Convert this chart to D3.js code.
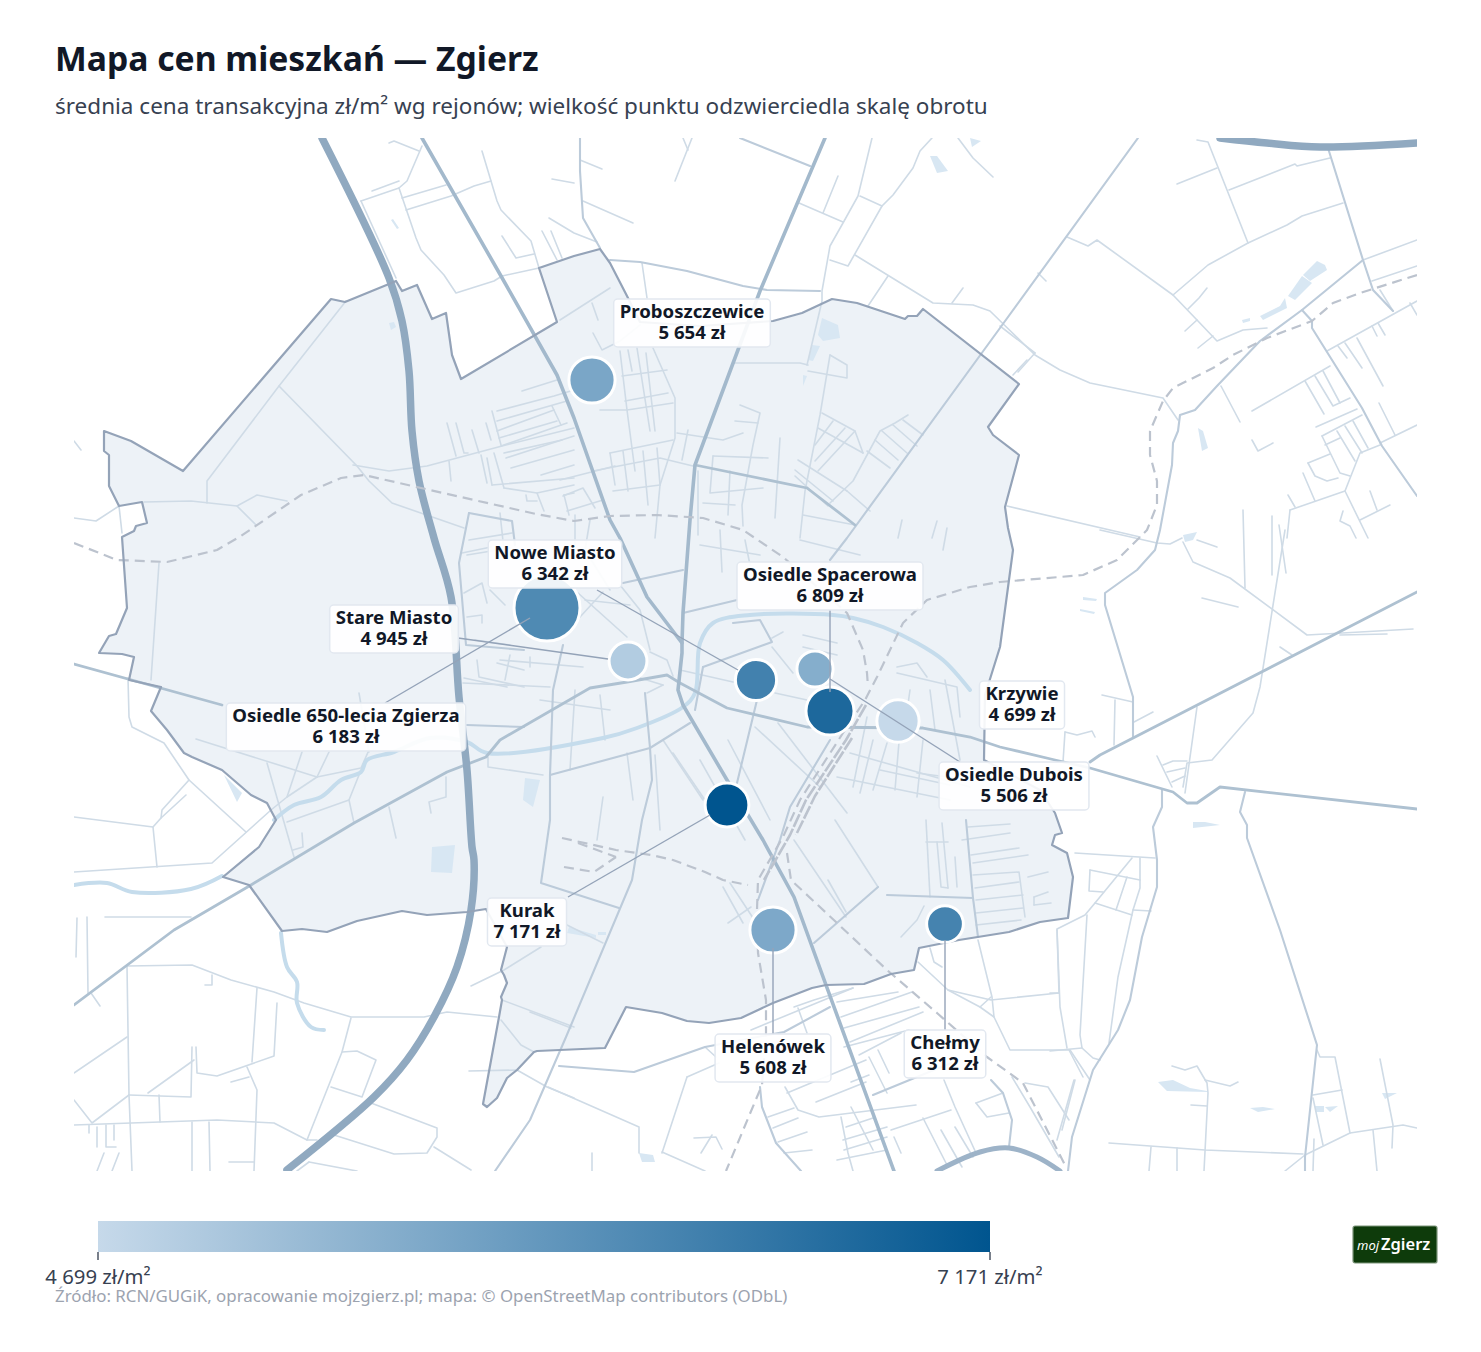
<!DOCTYPE html>
<html lang="pl">
<head>
<meta charset="utf-8">
<title>Mapa cen mieszkań — Zgierz</title>
<script src="https://d3js.org/d3.v7.min.js"></script>
<style>
  html,body{margin:0;padding:0;background:#fff;}
  svg{display:block;font-family:"Noto Sans","Open Sans",sans-serif;}
</style>
</head>
<body>
<div id="chart"></div>
<script>
// rejony
var districts = ["Proboszczewice","Osiedle 650-lecia Zgierza","Stare Miasto","Nowe Miasto","Osiedle Dubois","Osiedle Spacerowa","Krzywie","Kurak","Helenówek","Chełmy"];
var prices    = [5654,6183,4945,6342,5506,6809,4699,7171,5608,6312];
var turnover  = [49,100,33,39,30,53,41,44,49,31];
var pointX    = [592,547,628,756,815,830,898,727,773,945];
var pointY    = [380,608,661,680,669,711,721,805,930,924];
var labelX    = [692,346,394,555,1014,830,1022,527,773,945];
var labelY    = [323,727,629,564,786,586,705,922,1058,1054];
// odnośniki od etykiety do punktu: rejon, x1,y1,x2,y2 w jednostkach mapy
var leaders = [
  [1,385,703,530,618],[2,458,638,608,659],[3,597,590,738,670],[4,960,762,830,679],
  [5,830,610,830,692],[7,568,897,710,815],[8,773,1035,773,948],[9,945,1030,945,940]
];
var legendTicks = [4699,7171];

// granica miasta (jednostki siatki mapy)
var boundary = [[104,431],[131,441],[183,471],[331,299],[345,302],[389,284],[396,281],[402,291],[417,285],[432,319],[446,313],[452,355],[461,379],[557,322],[539,268],[574,256],[600,249],[610,263],[627,296],[640,322],[700,326],[773,321],[802,313],[832,299],[857,303],[905,319],[908,316],[917,316],[923,309],[1019,384],[988,427],[993,435],[1019,455],[1005,507],[1008,528],[1013,550],[1000,647],[985,695],[984,760],[1040,790],[1055,813],[1062,833],[1055,835],[1052,845],[1067,853],[1073,877],[1068,918],[1040,922],[1009,932],[959,940],[919,948],[914,970],[891,974],[864,984],[826,985],[812,988],[773,1003],[741,1018],[709,1023],[687,1021],[662,1013],[626,1007],[605,1048],[537,1051],[534,1052],[517,1070],[507,1078],[497,1098],[487,1107],[483,1104],[499,1017],[502,1000],[501,997],[507,983],[504,975],[501,970],[507,947],[486,909],[467,912],[427,915],[402,911],[357,921],[327,932],[302,929],[282,931],[249,885],[223,877],[259,847],[276,820],[267,803],[251,795],[222,770],[192,757],[184,753],[167,730],[151,711],[161,687],[129,680],[134,657],[122,654],[99,653],[109,636],[116,634],[127,608],[122,537],[134,531],[136,526],[147,523],[142,502],[119,506],[109,486],[109,455],[104,451]];

var motorways = [
  [[322,138],[389,278],[402,321],[409,371],[412,431],[419,481],[434,538],[451,597],[459,697],[467,770],[472,847],[474,860],[471,910],[457,967],[434,1017],[407,1060],[374,1097],[287,1170]],
  [[1220,138],[1267,143],[1320,147],[1417,143]]
];
var motorwayLink = [[[937,1171],[980,1152],[1009,1148],[1037,1157],[1060,1171]]];
var trunks = [
  [[422,138],[501,276],[557,375],[574,418],[610,520],[620,538],[647,597],[682,643],[682,653],[678,690],[683,705],[727,780],[763,840],[794,897],[826,985],[894,1171]],
  [[825,138],[760,291],[695,465],[690,520],[683,613],[682,643]]
];
var primary = [
  [[74,1005],[174,930],[251,885],[354,823],[447,772],[486,757],[500,740],[590,688],[627,682],[667,675],[680,683],[727,708],[807,727],[923,728],[970,737],[1000,747],[1055,760],[1090,768],[1173,792],[1187,803],[1197,803],[1220,787],[1417,809]],
  [[1090,762],[1100,755],[1417,592]],
  [[74,664],[222,705]],
  [[695,465],[807,488],[855,525]]
];
var secondary = [
  [[1138,138],[1000,328],[847,538],[830,560]],
  [[467,725],[524,727]],
  [[469,513],[512,521],[515,545]],
  [[469,513],[459,563],[466,645],[524,650]],
  [[1363,260],[1302,310],[1260,341],[1217,386],[1195,410],[1180,415],[1178,431],[1173,443],[1172,465],[1160,530],[1155,550],[1137,570],[1105,593],[1105,605],[1133,697],[1133,737]],
  [[1302,310],[1312,321],[1312,328],[1362,408],[1382,446],[1417,496]],
  [[1328,148],[1363,260],[1373,290],[1393,311]],
  [[1162,790],[1162,807],[1153,827],[1157,860],[1157,887],[1142,937],[1130,1000],[1118,1030],[1093,1070],[1072,1137],[1068,1171]],
  [[1245,792],[1240,812],[1247,825],[1247,838],[1280,930],[1317,1045],[1305,1157],[1305,1171]],
  [[645,693],[650,748],[652,780],[642,820],[632,880],[566,1037],[530,1120],[495,1171]],
  [[563,645],[553,690],[550,775],[550,820],[541,883],[569,892],[619,908]],
  [[550,775],[650,748],[690,723]],
  [[830,1007],[784,1032],[705,1047],[634,1072],[559,1066]],
  [[760,1087],[762,1107],[776,1143],[801,1171]],
  [[878,887],[814,943]],
  [[887,895],[973,898],[978,937]],
  [[966,820],[973,898]],
  [[757,700],[737,783]],
  [[830,740],[790,807],[780,840],[758,900]],
  [[703,667],[772,642],[760,620],[733,623]],
  [[695,710],[703,667]],
  [[683,613],[737,600]],
  [[623,583],[683,570]],
  [[873,1095],[951,1063]],
  [[991,1080],[1003,1093],[1012,1120],[1009,1147]],
  [[580,138],[580,171],[583,218],[600,248]],
  [[810,166],[740,138]],
  [[610,260],[640,262],[687,271],[743,286],[767,290],[820,291]]
];
var streets = [
  // północ
  [[361,201],[399,188],[407,181],[422,146]],[[361,201],[396,278]],[[372,191],[399,181]],
  [[399,188],[416,238],[421,250],[444,275],[456,293],[494,281],[502,276],[539,268]],
  [[402,198],[446,185]],[[406,210],[451,196],[474,186],[491,181]],
  [[482,151],[497,201],[501,210],[531,241],[539,268]],[[502,236],[516,258],[534,254]],
  [[542,231],[557,260]],[[551,231],[562,258]],[[549,218],[574,233],[597,242]],[[552,179],[574,183]],
  [[389,143],[394,141],[419,151]],[[580,160],[602,169]],[[583,201],[633,223]],
  [[692,138],[675,181]],[[683,138],[688,150]],[[799,203],[843,222]],[[838,176],[823,213]],
  [[872,138],[858,196],[843,223],[830,246],[822,291],[822,301],[807,365]],
  [[860,196],[882,206]],[[932,138],[920,151],[913,168],[893,195],[882,206],[848,266],[830,260]],
  [[855,255],[933,303],[973,305],[990,311],[1035,355],[1060,370],[1090,383],[1163,398],[1178,420]],
  [[888,276],[868,306]],[[963,288],[952,303]],[[958,138],[973,158],[993,177]],[[642,263],[647,298]],
  // Proboszczewice i okolice
  [[610,288],[560,320]],[[592,303],[598,320]],[[593,333],[602,350],[620,341],[640,325]],
  [[653,348],[675,398],[675,438],[660,485],[655,538]],
  [[620,351],[627,410],[635,471]],[[628,350],[632,371]],[[637,348],[650,431]],[[646,353],[655,431]],
  [[622,376],[667,370]],[[625,401],[668,393]],[[600,410],[627,410],[673,403]],[[610,453],[673,440]],
  [[593,471],[660,458],[693,466]],[[677,433],[723,440],[743,433]],[[688,430],[682,460]],
  [[610,453],[615,485]],[[623,451],[628,491]],[[643,451],[648,505]],[[657,448],[660,485]],
  [[613,491],[660,485]],[[560,480],[615,466]],[[563,496],[583,488],[595,508]],[[567,511],[603,500]],
  // na wschód od drogi
  [[713,456],[768,458]],[[713,456],[710,493],[763,488]],[[740,405],[760,413],[753,445],[742,505],[743,526]],
  [[735,421],[758,423]],[[780,438],[775,518]],[[698,471],[698,535]],[[703,503],[735,505]],[[730,471],[728,515]],
  [[830,355],[820,415],[805,491],[800,538]],[[830,355],[847,365],[847,378],[808,371]],[[735,363],[800,363],[808,365]],
  [[822,413],[855,431],[863,453]],[[818,428],[863,453]],[[798,460],[847,491]],[[795,470],[833,501]],[[795,476],[828,506]],
  [[855,431],[818,471]],[[845,428],[815,461]],[[833,421],[815,445]],[[908,415],[895,423],[880,431],[853,481],[830,503]],
  [[903,420],[923,435]],[[893,425],[917,446]],[[882,431],[907,453]],[[875,440],[898,460]],[[867,451],[890,468]],
  [[847,491],[870,511]],[[803,515],[855,525]],[[937,521],[932,538]],[[902,520],[898,538]],[[947,528],[943,550]],
  [[1007,506],[1140,537]],
  // prawa strona
  [[1197,140],[1208,142],[1248,243]],[[1177,184],[1217,168]],[[1229,190],[1295,164],[1297,166],[1330,158]],
  [[1173,295],[1208,265],[1248,243],[1287,225],[1302,216],[1343,203]],
  [[1067,237],[1088,246],[1097,240],[1173,295],[1197,320],[1217,341],[1243,330],[1267,328]],
  [[1188,309],[1199,298],[1207,288]],[[1185,331],[1197,320]],[[1198,348],[1213,336]],[[1038,273],[1046,281]],
  [[1000,326],[1035,353]],[[1027,360],[1013,375]],[[1035,353],[1018,372]],[[1363,260],[1417,240]],[[1372,281],[1417,266]],
  [[1327,351],[1417,301]],[[1338,346],[1347,358]],[[1345,343],[1362,368]],[[1357,338],[1383,386]],
  [[1372,326],[1377,336]],[[1378,323],[1385,335]],[[1380,290],[1393,311]],[[1410,303],[1417,315]],
  [[1252,411],[1330,366]],[[1305,381],[1324,414]],[[1315,376],[1333,406],[1350,398]],[[1323,371],[1340,403]],
  [[1316,427],[1357,409]],[[1322,436],[1362,415]],[[1322,436],[1340,473],[1350,476]],[[1325,445],[1340,438]],
  [[1337,431],[1355,461]],[[1345,426],[1362,453]],[[1353,421],[1368,448]],[[1380,445],[1360,453],[1345,491]],
  [[1380,443],[1417,425]],[[1379,403],[1395,435]],[[1290,510],[1345,491],[1368,538]],[[1288,495],[1295,507]],
  [[1303,473],[1315,501]],[[1308,463],[1330,454]],[[1308,463],[1315,476],[1327,481],[1338,478]],[[1290,510],[1287,538]],
  [[1252,440],[1258,451],[1273,443]],[[1221,386],[1240,422]],[[1243,510],[1245,588]],[[1272,516],[1272,575]],[[1279,525],[1286,573]],
  [[1370,491],[1377,510]],[[1360,520],[1390,505]],[[1343,511],[1340,521],[1350,526],[1356,538]],
  [[1100,530],[1157,543],[1170,544],[1182,538]],[[1183,542],[1193,562],[1230,578],[1307,635],[1413,629]],[[1197,540],[1217,547]],
  [[1285,530],[1260,687],[1253,713],[1212,760],[1187,763],[1183,787]],[[1197,707],[1185,793]],
  [[1202,598],[1238,607]],[[1340,635],[1387,634]],[[1280,647],[1292,655]],[[1157,756],[1172,787]],
  [[1163,765],[1173,761],[1187,761]],[[1167,772],[1185,768]],[[1172,782],[1185,776]],
  [[1102,695],[1133,702]],[[1115,700],[1114,745]],[[1134,722],[1153,712]],[[1065,732],[1063,762]],
  [[1065,732],[1077,735],[1092,731],[1095,737]],
  // południowy wschód
  [[1090,870],[1140,880]],[[1090,870],[1089,891],[1103,892]],[[1132,858],[1095,903],[1085,915],[1057,929],[1060,1007],[1067,1048]],
  [[1127,877],[1116,910]],[[1095,903],[1132,915]],[[1140,858],[1140,888],[1133,910],[1118,977],[1109,1043]],[[1133,910],[1151,911]],
  [[1087,915],[1080,1035],[1082,1048],[1093,1058],[1100,1060]],[[1050,1051],[1082,1048]],[[1070,1050],[1090,1080]],
  [[1050,993],[1059,993]],[[1074,1080],[1057,1140]],[[1075,853],[1155,858]],
  [[1172,1066],[1185,1070],[1197,1066],[1207,1083],[1208,1093],[1204,1171]],[[1205,1080],[1230,1086],[1238,1082]],[[1191,1105],[1207,1106]],
  [[1109,1143],[1205,1150],[1303,1154]],[[1151,1147],[1149,1171]],[[1177,1148],[1177,1171]],
  [[1317,1050],[1320,1057],[1335,1057],[1350,1133]],[[1313,1095],[1342,1090]],[[1313,1098],[1323,1145]],
  [[1285,1171],[1305,1155],[1350,1133],[1403,1125],[1417,1128]],[[1380,1059],[1393,1125],[1392,1148]],[[1373,1130],[1377,1171]],[[1314,1139],[1313,1171]],
  // osiedle przy granicy
  [[926,820],[930,897]],[[942,823],[948,888]],[[835,820],[878,887]],[[794,840],[846,917]],[[828,880],[846,912]],
  [[968,827],[1010,824]],[[962,840],[1010,833]],[[971,855],[1019,848]],[[973,863],[1028,855]],[[973,875],[1019,872],[1025,917]],
  [[975,888],[1019,882]],[[976,900],[1023,895]],[[976,913],[1023,908]],[[976,925],[1021,920]],[[1028,877],[1048,872]],
  [[1034,897],[1048,892]],[[1034,905],[1051,903]],[[1034,897],[1034,905]],[[926,842],[948,842]],[[937,842],[941,887],[948,888]],[[955,857],[957,887]],
  [[901,937],[917,920],[924,906]],[[930,948],[934,962],[942,967]],[[918,962],[948,990],[991,1000],[1059,993]],[[980,1007],[991,997]],
  [[978,940],[992,997],[994,1017],[1010,1050],[1069,1050],[1083,1077]],[[948,990],[980,1007],[994,1017]],[[1057,930],[1059,993]],
  // południe miasta
  [[705,1047],[716,1057]],[[687,1077],[719,1063]],[[687,1077],[662,1153]],
  [[787,1093],[866,1060]],[[785,1087],[798,1110],[819,1117],[916,1105]],[[816,1102],[866,1082]],[[768,1117],[794,1108]],[[773,1128],[798,1118]],
  [[778,1142],[807,1132]],[[784,1153],[812,1150]],[[841,1117],[848,1153],[853,1171]],[[851,1107],[873,1150]],
  [[843,1140],[887,1127]],[[846,1127],[873,1118]],[[844,1150],[887,1137]],[[837,1160],[887,1150]],[[891,1130],[951,1110]],
  [[894,1137],[901,1153]],[[923,1118],[948,1167]],[[941,1130],[962,1167]],[[955,1127],[973,1157]],[[944,1080],[955,1107],[976,1153]],
  [[976,1103],[1003,1093]],[[976,1103],[987,1117],[1009,1113]],[[1012,1077],[1030,1107],[1059,1157]],[[1025,1083],[1048,1087],[1069,1120]],[[1075,1080],[1062,1130]],
  [[751,1030],[853,988]],[[794,1007],[814,1000],[853,988]],[[798,1008],[807,1033]],[[837,1002],[898,992]],[[841,1017],[912,992]],
  [[844,1028],[919,1007]],[[850,1042],[923,1012]],[[844,1047],[909,1030]],[[859,1055],[901,1033]],[[851,1082],[869,1075]],
  [[869,1057],[887,1093]],[[878,1050],[889,1073]],
  // południowy zachód
  [[127,966],[192,965],[231,980],[274,992],[304,1003],[351,1017],[424,1017],[447,1012],[497,1017]],
  [[127,966],[129,1095],[132,1171]],[[74,1073],[127,1037]],[[74,1100],[92,1123],[129,1095]],
  [[129,1095],[191,1097],[192,1047]],[[148,1093],[194,1060]],[[196,1047],[197,1073],[217,1076],[274,1056],[277,1003]],
  [[252,1062],[257,988]],[[247,1067],[257,1090],[254,1171]],[[231,1082],[249,1077]],[[159,1095],[160,1122]],
  [[74,1125],[217,1120],[274,1123],[307,1140],[317,1140]],[[351,1018],[342,1052],[307,1140]],
  [[342,1052],[357,1051],[376,1060],[362,1097],[331,1087]],[[371,1103],[437,1128],[437,1137],[427,1153],[394,1154],[334,1135]],
  [[434,1147],[471,1170]],[[309,1162],[297,1171]],[[309,1162],[357,1171]],[[192,1122],[192,1171]],[[209,1122],[210,1171]],
  [[105,917],[191,917]],[[77,918],[76,957]],[[87,917],[88,993]],[[91,993],[100,1006]],[[212,975],[212,985],[205,985]],
  [[89,1125],[89,1133]],[[97,1127],[97,1147]],[[106,1125],[106,1147],[116,1147]],[[114,1125],[114,1140]],[[104,1153],[97,1171]],[[119,1153],[112,1171]],
  [[229,1162],[254,1162]],[[471,986],[504,970],[541,947]],[[502,1000],[574,1027]],[[501,1020],[521,1045],[534,1052]],
  [[469,1071],[517,1070],[547,1087],[574,1098]],[[567,925],[603,943]],[[530,1012],[571,1028]],
  [[548,1087],[639,1127],[639,1153]],[[592,1153],[592,1171]],[[694,1138],[716,1137],[722,1149]],[[701,1153],[712,1135]],[[662,1152],[705,1171]],
  // zachód
  [[346,301],[279,386],[207,481],[207,503]],[[279,386],[357,466],[369,481],[392,503],[464,528]],
  [[353,465],[389,471],[427,466],[502,446],[574,428]],[[144,502],[191,501],[237,506],[257,495],[287,501]],
  [[237,506],[256,525]],[[74,518],[96,521],[119,506],[122,533]],[[74,441],[81,450]],
  [[159,563],[151,680]],[[128,678],[129,717],[132,727],[164,743],[189,780],[246,832]],
  [[189,780],[162,810],[161,818],[153,827],[157,867]],[[186,795],[161,818]],[[74,817],[153,827]],
  [[74,872],[212,863],[271,810]],[[271,810],[287,797],[317,777],[361,768],[369,750]],[[196,739],[317,777]],
  [[267,763],[294,857]],[[317,777],[329,752]],[[302,752],[287,797]],[[302,833],[303,847],[293,850]],
  [[287,822],[349,800],[361,770]],[[349,800],[354,823]],[[389,807],[396,838]],[[369,752],[359,693]],
  [[446,777],[446,797],[429,802],[431,813]],
  // osiedla między autostradą a centrum
  [[447,423],[456,456]],[[456,423],[464,453],[468,453]],[[472,430],[479,453]],[[486,423],[491,440]],[[492,411],[501,445]],
  [[497,411],[554,396],[574,390]],[[497,421],[567,401]],[[497,431],[554,410]],[[499,438],[557,421]],[[501,446],[567,423]],
  [[504,453],[562,440]],[[506,458],[574,436]],[[511,468],[574,450]],[[541,475],[574,465]],[[492,485],[574,478]],
  [[481,455],[487,483]],[[487,458],[492,485]],[[494,453],[504,488]],[[504,488],[537,493],[574,485]],[[537,493],[544,511]],
  [[526,495],[527,501],[537,501]],[[564,495],[574,493]],[[564,495],[569,515]],[[522,391],[541,385],[557,380]],[[552,406],[561,425]],
  [[449,461],[451,481]],[[462,553],[491,547]],[[464,593],[482,583],[487,603]],[[467,617],[482,615],[482,623]],
  [[477,660],[479,677],[524,687]],[[464,678],[507,687]],[[497,663],[524,670]],[[463,683],[550,687]],[[500,660],[583,667]],
  [[530,657],[530,667]],[[637,677],[663,685]],[[647,693],[663,685]],[[650,652],[667,660],[673,676]],[[578,593],[627,637]],
  [[580,617],[603,592]],[[680,670],[733,682]],[[772,638],[783,632]],[[772,647],[793,673]],[[803,635],[837,643]],[[803,647],[837,655]],
  [[775,693],[807,700]],[[867,717],[853,787]],[[873,740],[860,793]],[[887,743],[873,790]],[[897,673],[957,687],[960,717]],
  [[897,667],[917,663],[927,677]],[[923,740],[917,797]],[[850,753],[970,787]],[[837,777],[950,800]],[[917,773],[970,780]],
  [[778,723],[837,800],[847,813]],[[755,727],[820,787]],[[728,740],[770,820]],[[673,753],[707,803],[710,813]],[[627,753],[633,800]],
  [[663,740],[703,800]],[[603,797],[597,840]],[[488,757],[488,767],[543,775]],[[730,883],[759,927]],[[723,887],[743,923]],[[728,923],[751,907]],
  // dopełnienie centrum
  [[469,540],[512,533]],[[467,555],[510,548]],[[500,513],[505,560]],[[490,590],[505,605]],[[575,515],[575,545]],
  [[590,520],[585,550],[610,590]],[[585,600],[630,605]],[[620,585],[640,610],[650,650]],[[510,655],[505,680]],[[475,640],[510,645]],
  [[900,730],[895,790]],[[945,680],[960,760]],[[880,770],[950,785]],[[655,755],[660,830]],[[700,760],[745,840]],
  [[540,700],[610,710]],[[575,690],[570,770]],[[600,695],[605,740]],[[930,690],[935,730]],[[910,690],[905,725]],
  [[720,530],[722,572]],[[745,540],[750,565]],[[700,545],[760,555]],[[800,540],[860,555]]
];
var rivers = [
  [[74,885],[107,883],[132,892],[191,889],[222,876]],
  [[274,820],[294,805],[321,797],[341,780],[361,772],[367,760],[394,752],[430,738],[467,742],[487,753],[603,738],[637,728],[683,707],[695,693],[700,643],[713,623],[750,615],[833,615],[853,618],[883,627],[917,643],[943,660],[970,690]],
  [[281,933],[287,967],[297,982],[297,1003],[311,1027],[324,1030]]
];
var rails = [
  [[74,543],[117,560],[167,562],[217,550],[241,536],[301,495],[341,478],[364,475],[421,488],[536,514],[574,521],[610,516],[657,515],[703,518],[743,530],[783,557],[847,613],[863,650],[867,673],[868,687]],
  [[1417,275],[1360,293],[1333,303],[1312,321],[1267,338],[1233,355],[1213,368],[1173,388],[1163,401],[1150,431],[1150,455],[1157,481],[1157,505],[1147,530],[1117,560],[1083,575],[1000,582],[970,587],[927,600],[903,623],[877,677],[865,700],[843,733],[800,800],[783,837],[758,880],[757,910],[758,953],[766,1000],[766,1033],[762,1085],[726,1171]],
  [[787,853],[791,880],[837,923],[887,970],[937,1013],[987,1057],[1023,1083],[1066,1167]],
  [[562,838],[616,850],[651,855],[673,860],[705,872],[723,880],[748,885]],
  [[564,867],[594,872],[616,857]],[[578,843],[616,857]]
];
var railYard = [
  [[866,705],[846,740],[806,800],[790,835],[764,880]],
  [[852,738],[815,796],[796,835]]
];
var water = [
  [[1303,275],[1317,261],[1325,265],[1327,270],[1310,281]],
  [[1302,276],[1312,283],[1295,300],[1288,296]],
  [[1285,298],[1287,308],[1263,320],[1260,316],[1280,306]],
  [[1242,320],[1250,318],[1250,321],[1243,323]],
  [[1198,428],[1203,431],[1208,448],[1202,451]],
  [[822,318],[838,325],[840,338],[823,341],[818,335]],
  [[812,345],[820,346],[813,361],[808,360]],
  [[930,156],[937,156],[948,171],[937,173]],
  [[803,375],[807,376],[803,386]],
  [[970,138],[981,141],[972,147]],
  [[432,847],[455,845],[452,873],[431,872]],
  [[224,775],[242,793],[237,802]],
  [[525,778],[540,780],[533,807],[523,800]],
  [[569,927],[596,935],[596,938],[567,933]],
  [[598,932],[606,932],[606,935],[598,935]],
  [[1158,1082],[1173,1080],[1190,1088],[1207,1091],[1207,1092],[1167,1091]],
  [[1250,1108],[1263,1107],[1275,1109],[1258,1112]],
  [[1315,1106],[1324,1106],[1324,1112],[1315,1112]],
  [[1325,1107],[1338,1106],[1330,1112]],
  [[1382,1093],[1397,1093],[1385,1099]],
  [[1193,822],[1205,822],[1220,825],[1193,828]],
  [[639,1153],[653,1155],[655,1162],[642,1162]],
  [[1083,597],[1097,599],[1096,601],[1083,600]],
  [[1080,609],[1095,612],[1094,614],[1080,611]],
  [[1183,535],[1197,532],[1193,540],[1185,542]],
  [[389,323],[394,322],[396,327],[391,330]],
  [[391,220],[393,219],[399,228],[397,229]]
];

var W = 1481, H = 1352;
var mapLeft = 74, mapRight = 1417, mapTop = 138, mapBottom = 1171;
var fmt = function(v){ return String(v).replace(/\B(?=(\d{3})+$)/g, "\u00a0"); };

var x = d3.scaleLinear().domain([74,1417]).range([mapLeft,mapRight]);
var y = d3.scaleLinear().domain([138,1171]).range([mapTop,mapBottom]);
var color = d3.scaleLinear().domain(d3.extent(prices)).range(["#c6d9ea","#00558f"]);
var radius = d3.scaleSqrt().domain([0,d3.max(turnover)]).range([0,33]);
var line = d3.line().x(function(d){return x(d[0])}).y(function(d){return y(d[1])});
var smooth = d3.line().x(function(d){return x(d[0])}).y(function(d){return y(d[1])}).curve(d3.curveCatmullRom.alpha(0.5));

var svg = d3.select("#chart").append("svg").attr("width",W).attr("height",H);
svg.append("rect").attr("width",W).attr("height",H).attr("fill","#fff");

svg.append("text").attr("x",55).attr("y",71).attr("font-size",33.7).attr("font-weight",700).attr("fill","#111827").text("Mapa cen mieszkań — Zgierz");
svg.append("text").attr("x",55).attr("y",114).attr("font-size",22.5).attr("fill","#374151").text("średnia cena transakcyjna zł/m² wg rejonów; wielkość punktu odzwierciedla skalę obrotu");

svg.append("clipPath").attr("id","mapclip").append("rect").attr("x",mapLeft).attr("y",mapTop).attr("width",mapRight-mapLeft).attr("height",mapBottom-mapTop);
var map = svg.append("g").attr("clip-path","url(#mapclip)");

map.append("path").attr("d",line(boundary)+"Z").attr("fill","#edf2f7");
map.append("g").selectAll("path").data(water).enter().append("path").attr("d",function(d){return line(d)+"Z"}).attr("fill","#d8e7f3");

function roads(data,gen,col,w,dash){
  return map.append("g").selectAll("path").data(data).enter().append("path")
    .attr("d",gen).attr("fill","none").attr("stroke",col).attr("stroke-width",w)
    .attr("stroke-linejoin","round").attr("stroke-linecap",dash?"butt":"round")
    .attr("stroke-dasharray",dash||null);
}
roads(streets,line,"#cfdbe6",1.6);
roads(rivers,smooth,"#c5dcec",4);
roads(secondary,line,"#bccbda",2.1);
roads(primary,line,"#aec1d1",2.8);
roads(trunks,line,"#a3b9cc",3.6);
roads(motorways,smooth,"#90a9c0",7.5);
roads(motorwayLink,smooth,"#9db3c8",5);
roads(rails,line,"#bcc3ce",2.2,"10,6");
roads(railYard,line,"#bcc3ce",2.6,"14,2");
map.append("path").attr("d",line(boundary)+"Z").attr("fill","none").attr("stroke","#94a3b8").attr("stroke-width",2.2).attr("stroke-linejoin","round");

// punkty
var pts = districts.map(function(n,i){ return {name:n,price:prices[i],turn:turnover[i],px:pointX[i],py:pointY[i],lx:labelX[i],ly:labelY[i]}; });
svg.append("g").selectAll("circle").data(pts.slice().sort(function(a,b){return b.turn-a.turn})).enter().append("circle")
  .attr("cx",function(d){return x(d.px)}).attr("cy",function(d){return y(d.py)})
  .attr("r",function(d){return radius(d.turn)}).attr("fill",function(d){return color(d.price)})
  .attr("stroke","#fff").attr("stroke-width",3);

svg.append("g").selectAll("line").data(leaders).enter().append("line")
  .attr("x1",function(d){return x(d[1])}).attr("y1",function(d){return y(d[2])})
  .attr("x2",function(d){return x(d[3])}).attr("y2",function(d){return y(d[4])})
  .attr("stroke","#94a3b8").attr("stroke-width",1.4);

// etykiety: dwie linie w jednym elemencie text
var lab = svg.append("g").selectAll("g").data(pts).enter().append("g")
  .attr("transform",function(d){return "translate("+x(d.lx)+","+y(d.ly)+")"});
var box = lab.append("rect").attr("fill","#fff").attr("fill-opacity",0.9).attr("stroke","#e2e8f0").attr("stroke-width",1.5).attr("rx",4);
var txt = lab.append("text").attr("text-anchor","middle").attr("font-size",18.6).attr("font-weight",700).attr("fill","#111827");
txt.append("tspan").attr("x",0).attr("y",-5).text(function(d){return d.name});
txt.append("tspan").attr("x",0).attr("y",16).text(function(d){return fmt(d.price)+" zł"});
box.each(function(){
  var w = 0;
  d3.select(this.parentNode).selectAll("tspan").each(function(){ w = Math.max(w,this.getComputedTextLength()); });
  d3.select(this).attr("x",-w/2-6).attr("y",-24).attr("width",w+12).attr("height",48);
});

// legenda
var legendX = d3.scaleLinear().domain(d3.extent(prices)).range([98,990]);
var grad = svg.append("defs").append("linearGradient").attr("id","legendgrad");
grad.selectAll("stop").data([0,0.25,0.5,0.75,1]).enter().append("stop")
  .attr("offset",function(d){return d})
  .attr("stop-color",function(d){return color(legendTicks[0]+d*(legendTicks[1]-legendTicks[0]))});
svg.append("rect").attr("x",legendX(legendTicks[0])).attr("y",1221).attr("width",legendX(legendTicks[1])-legendX(legendTicks[0])).attr("height",31).attr("fill","url(#legendgrad)");
var tick = svg.append("g").selectAll("g").data(legendTicks).enter().append("g").attr("transform",function(d){return "translate("+legendX(d)+",1252)"});
tick.append("line").attr("y2",8).attr("stroke","#4b5563").attr("stroke-width",1.5);
tick.append("text").attr("y",32).attr("text-anchor","middle").attr("font-size",20.3).attr("fill","#374151").text(function(d){return fmt(d)+" zł/m²"});

svg.append("text").attr("x",55).attr("y",1302).attr("font-size",16.87).attr("fill","#9ca3af").text("Źródło: RCN/GUGiK, opracowanie mojzgierz.pl; mapa: © OpenStreetMap contributors (ODbL)");

// logo
var logo = svg.append("g").attr("transform","translate(1353,1226)");
logo.append("rect").attr("width",84).attr("height",37).attr("rx",2).attr("fill","#0e3b0b").attr("stroke","#7d957b").attr("stroke-width",1.2);
logo.append("text").attr("x",4).attr("y",24).attr("font-size",13).attr("font-style","italic").attr("fill","#fff").text("moj");
logo.append("text").attr("x",28).attr("y",24).attr("font-size",16.5).attr("font-weight",600).attr("fill","#fff").text("Zgierz");
</script>
</body>
</html>
